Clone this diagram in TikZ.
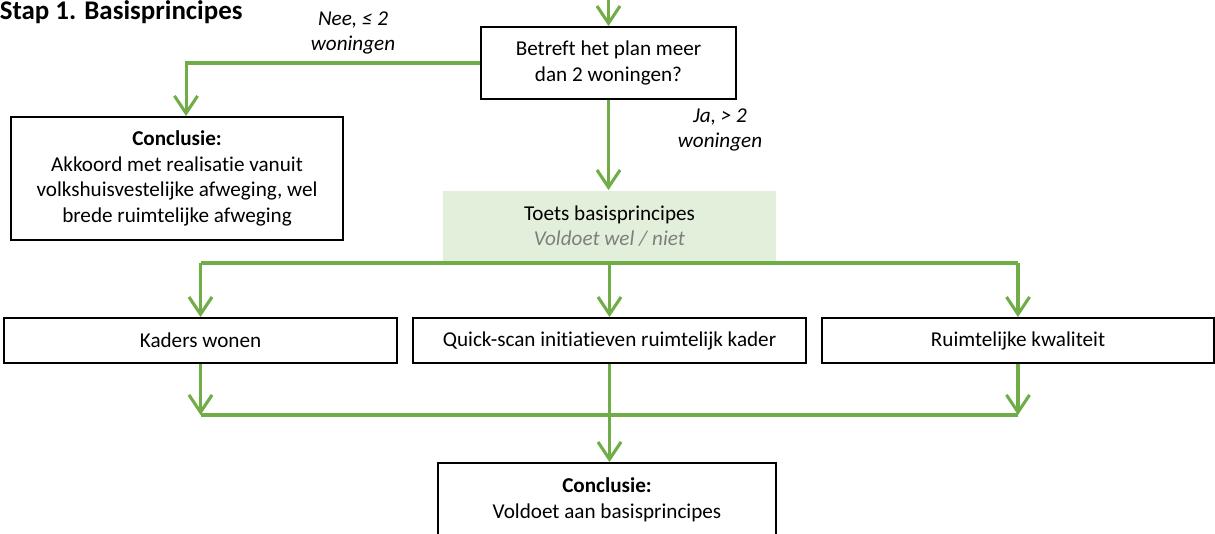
\documentclass[tikz,border=0pt]{standalone}
\usepackage{fontspec}
\setmainfont{Carlito}[Ligatures=NoCommon]
\usetikzlibrary{arrows.meta}
\definecolor{groen}{RGB}{112,173,71}
\definecolor{lichtgroen}{RGB}{226,239,218}
\definecolor{grijs}{RGB}{127,127,127}
\tikzset{
    box/.style={draw=black, line width=1pt, inner sep=0pt, align=center, font=\fontsize{11}{13.4}\selectfont},
    lijn/.style={draw=groen, line width=1.6pt},
    pijl/.style={lijn, -{Straight Barb[length=9pt, width=12pt]}},
    label/.style={align=center, font=\fontsize{11}{13.4}\selectfont\itshape}
}

\begin{document}
\begin{tikzpicture}[x=0.52pt, y=-0.52pt]
                \useasboundingbox (0,0) rectangle (1215,534);
                \node[anchor=base west, font=\fontsize{14}{16}\selectfont\bfseries] (titel) at (-7,20) {Stap 1. Basisprincipes};
                \node[box, minimum width=132.6pt, minimum height=37.4pt] (vraag) at (608.5,63) {Betreft het plan meer\\dan 2 woningen?};
                \node[box, minimum width=172.6pt, minimum height=64pt] (nee) at (177,178.5) {\textbf{Conclusie:}\\Akkoord met realisatie vanuit\\volkshuisvestelijke afweging, wel\\brede ruimtelijke afweging};
                \node[box, draw=none, fill=lichtgroen, minimum width=173.2pt, minimum height=36.4pt] (toets) at (609.5,226) {Toets basisprincipes\\\textcolor{grijs}{\itshape Voldoet wel / niet}};
                \node[box, minimum width=204.4pt, minimum height=23.4pt] (kaders) at (200.5,340.5) {Kaders wonen};
                \node[box, minimum width=204.4pt, minimum height=23.4pt] (quick) at (609.5,340.5) {Quick-scan initiatieven ruimtelijk kader};
                \node[box, minimum width=203.8pt, minimum height=23.4pt] (kwal) at (1018,340.5) {Ruimtelijke kwaliteit};
                \node[box, minimum width=175.8pt, minimum height=38.5pt] (concl) at (607,500) {\textbf{Conclusie:}\\Voldoet aan basisprincipes};
                \node[label] (neelabel) at (353,33) {Nee, ≤ 2\\woningen};
                \node[label] (jalabel) at (720,130) {Ja, > 2\\woningen};
                \coordinate (start) at (608.5,0);
                \coordinate (verdeel) at (609,263);
                \coordinate (samen) at (609,415);
                \draw[pijl] (start) -- (vraag.north);
                \draw[pijl] (vraag.west) -| ([xshift=4.7pt]nee.north);
                \draw[pijl] (vraag.south) -- (vraag.south |- toets.north);
                \draw[lijn] (verdeel -| kaders) -- (verdeel -| kwal);
                \draw[pijl] (verdeel -| kaders) -- (kaders.north);
                \draw[pijl] (toets.south -| quick) -- (quick.north);
                \draw[pijl] (verdeel -| kwal) -- (kwal.north);
                \draw[pijl] (kaders.south) -- (kaders.south |- samen);
                \draw[pijl] (kwal.south) -- (kwal.south |- samen);
                \draw[lijn] (kaders.south |- samen) -- (kwal.south |- samen);
                \draw[pijl] (quick.south) -- (quick.south |- concl.north);
            \end{tikzpicture}
\end{document}
